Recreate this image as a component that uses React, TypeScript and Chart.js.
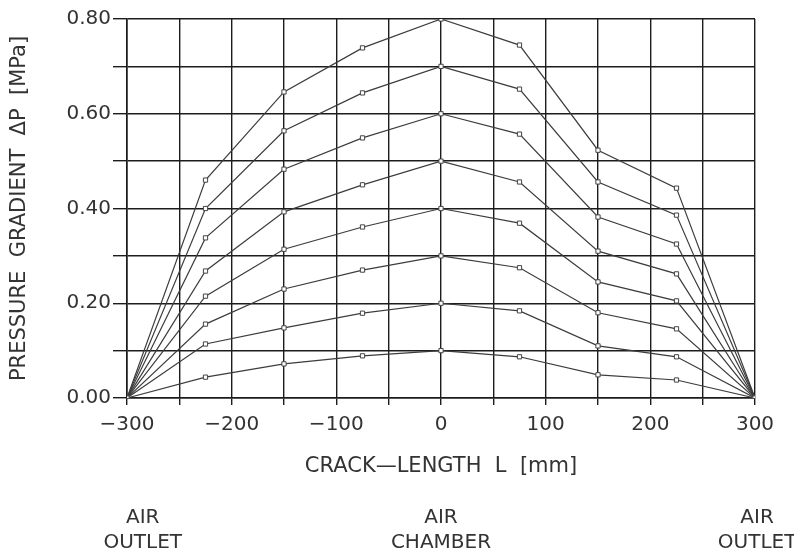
import React, { useEffect, useRef } from "react";
import { Chart, registerables } from "chart.js";

Chart.register(...registerables);

// Crack length positions [mm]
const crackLength = [-300, -225, -150, -75, 0, 75, 150, 225, 300];

// Pressure gradient curves [MPa]
const curve080 = [0, 0.46, 0.646, 0.739, 0.8, 0.745, 0.523, 0.443, 0];
const curve070 = [0, 0.4, 0.564, 0.644, 0.7, 0.652, 0.456, 0.386, 0];
const curve060 = [0, 0.338, 0.483, 0.549, 0.6, 0.557, 0.382, 0.325, 0];
const curve050 = [0, 0.268, 0.393, 0.45, 0.5, 0.456, 0.31, 0.262, 0];
const curve040 = [0, 0.215, 0.314, 0.361, 0.4, 0.369, 0.245, 0.205, 0];
const curve030 = [0, 0.156, 0.23, 0.27, 0.3, 0.275, 0.18, 0.146, 0];
const curve020 = [0, 0.114, 0.148, 0.179, 0.2, 0.184, 0.11, 0.087, 0];
const curve010 = [0, 0.044, 0.072, 0.089, 0.1, 0.087, 0.049, 0.038, 0];

const curves = [curve080, curve070, curve060, curve050, curve040, curve030, curve020, curve010];

// Axis texts
const xTitle = "CRACK\u2014LENGTH  L  [mm]";
const yTitle = "PRESSURE  GRADIENT  \u0394P  [MPa]";

// Location labels under the chart
const locationX = [-285, 0, 302];
const locationLine1 = ["AIR", "AIR", "AIR"];
const locationLine2 = ["OUTLET", "CHAMBER", "OUTLET"];

const TEXT = "#333333";
const GRID = "#1c1c1c";
const LINE = "#3c3c3c";

const locationPlugin = {
  id: "locationLabels",
  afterDraw(chart: any) {
    const { ctx } = chart;
    const xs = chart.scales.x;
    ctx.save();
    ctx.fillStyle = TEXT;
    ctx.font = "20px 'DejaVu Sans'";
    ctx.textAlign = "center";
    ctx.textBaseline = "middle";
    for (let i = 0; i < locationX.length; i++) {
      const px = xs.getPixelForValue(locationX[i]);
      ctx.fillText(locationLine1[i], px, 518);
      ctx.fillText(locationLine2[i], px, 543);
    }
    ctx.restore();
  },
};

export default function App() {
  const ref = useRef<HTMLCanvasElement>(null);

  useEffect(() => {
    if (!ref.current) return;
    const chart = new Chart(ref.current, {
      type: "line",
      data: {
        datasets: curves.map((c, i) => ({
          label: "curve " + i,
          data: crackLength.map((x, j) => ({ x, y: c[j] })),
          borderColor: LINE,
          borderWidth: 1.2,
          pointStyle: "rect",
          pointRadius: 3,
          pointBackgroundColor: "#ffffff",
          pointBorderColor: "#444444",
          pointBorderWidth: 1,
          tension: 0,
          fill: false,
        })),
      },
      options: {
        animation: false,
        responsive: false,
        maintainAspectRatio: false,
        layout: { padding: { top: 19, right: 39, left: 0, bottom: 0 } },
        plugins: {
          legend: { display: false },
          tooltip: { enabled: false },
        },
        scales: {
          x: {
            type: "linear",
            min: -300,
            max: 300,
            afterFit: (s: any) => {
              s.height = 157;
            },
            ticks: {
              stepSize: 50,
              color: TEXT,
              font: { family: "'DejaVu Sans'", size: 20 },
              padding: 8,
              maxRotation: 0,
              autoSkip: false,
              callback: (v: any) =>
                Math.round(v) % 100 === 0 ? (v < 0 ? "\u2212" + Math.abs(v) : String(v)) : "",
            },
            grid: {
              color: GRID,
              lineWidth: 1.4,
              tickLength: 7,
              drawTicks: true,
            },
            border: { color: GRID, width: 1.6 },
            title: {
              display: true,
              text: xTitle,
              color: TEXT,
              font: { family: "'DejaVu Sans'", size: 21 },
              padding: { top: 0, bottom: 76 },
            },
          },
          y: {
            type: "linear",
            min: 0,
            max: 0.8,
            afterFit: (s: any) => {
              s.width = 127;
            },
            ticks: {
              stepSize: 0.1,
              color: TEXT,
              font: { family: "'DejaVu Sans'", size: 20 },
              padding: 2,
              autoSkip: false,
              callback: (v: any) =>
                Math.round(v * 10) % 2 === 0 ? Number(v).toFixed(2) : "",
            },
            grid: {
              color: GRID,
              lineWidth: 1.4,
              tickLength: 14,
            },
            border: { color: GRID, width: 1.6 },
            title: {
              display: true,
              text: yTitle,
              color: TEXT,
              font: { family: "'DejaVu Sans'", size: 21 },
              padding: { top: 7, bottom: 0 },
            },
          },
        },
      },
      plugins: [locationPlugin],
    });
    return () => chart.destroy();
  }, []);

  return (
    <div style={{ position: "absolute", left: 0, top: 0, width: 794, height: 555, background: "#fff" }}>
      <canvas ref={ref} width={794} height={555} />
    </div>
  );
}
